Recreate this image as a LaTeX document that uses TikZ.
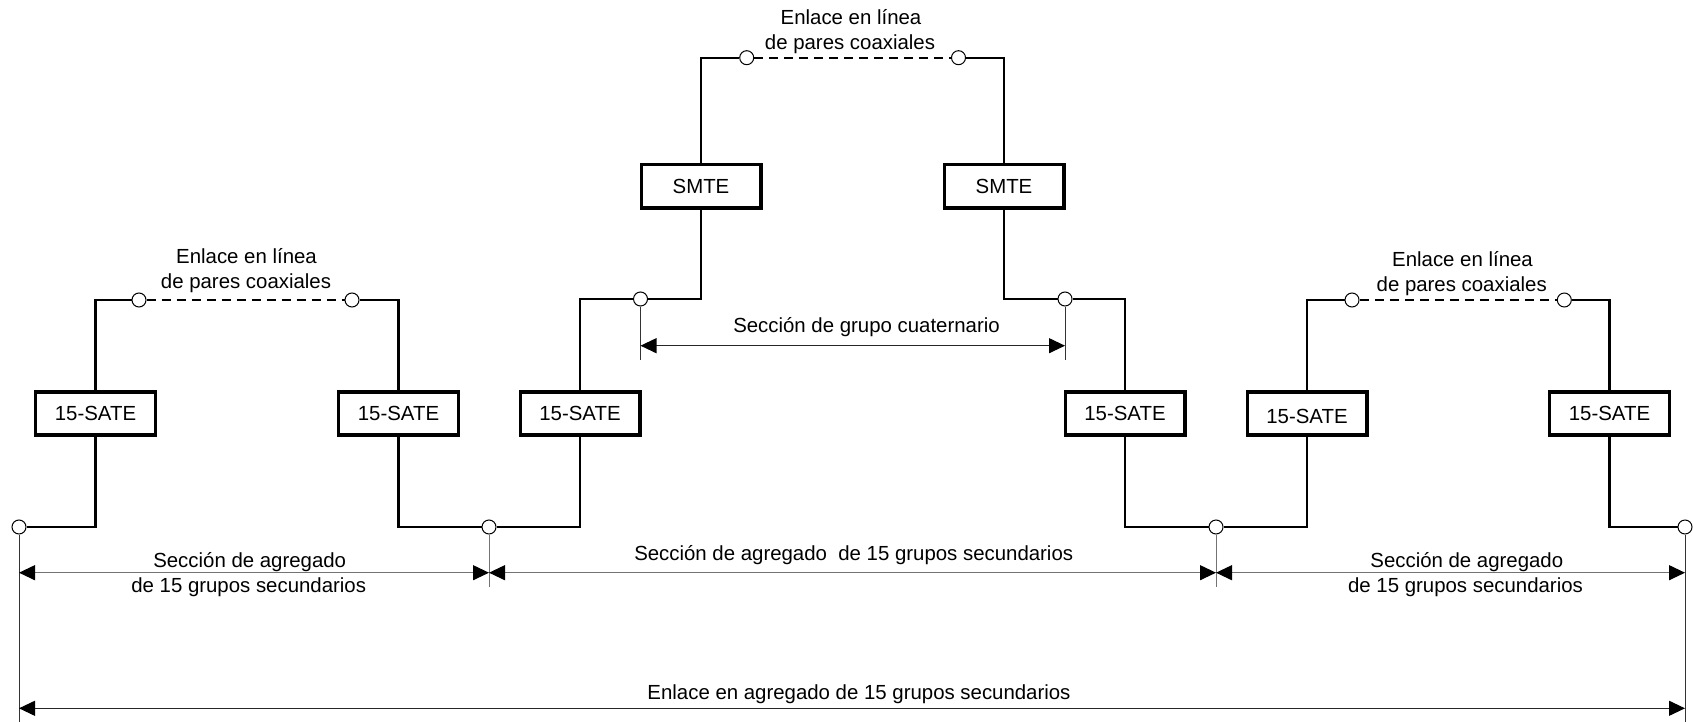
\documentclass[tikz,border=0pt]{standalone}
\usepackage{fontspec}
\setmainfont{Liberation Sans}
\usetikzlibrary{arrows.meta}
\begin{document}
\begin{tikzpicture}[x=1pt,y=-1pt,
  unit/.style={draw, line width=3.3pt, minimum width=119.7pt, minimum height=43.2pt,
    inner sep=0pt, text height=14.6pt, text depth=0pt, font=\fontsize{20.4}{24}\selectfont},
  port/.style={circle, draw, fill=white, line width=1pt, minimum size=14pt, inner sep=0pt},
  wire/.style={line width=2.2pt},
  link/.style={line width=2pt, dash pattern=on 9pt off 6pt},
  lbl/.style={font=\fontsize{20.4}{24}\selectfont, inner sep=0pt, anchor=base},
  tip/.tip={Triangle[length=16pt,width=15pt,color=black]},
  secdim/.style={line width=1.1pt, black!55, tip-tip},
  maindim/.style={line width=1.1pt, black!85, tip-tip},
  sectick/.style={line width=1pt, black!55},
  maintick/.style={line width=1pt, black!80}]
\useasboundingbox (0,0) rectangle (1693,722);

% terminal equipment
\node[unit] (b1) at (95.5,413.5) {15-SATE};
\node[unit] (b2) at (398.5,413.5) {15-SATE};
\node[unit] (b3) at (580,413.5) {15-SATE};
\node[unit] (b4) at (1125,413.5) {15-SATE};
\node[unit, text height=20.6pt] (b5) at (1307,413.5) {15-SATE};
\node[unit] (b6) at (1609.5,413.5) {15-SATE};
\node[unit] (s1) at (701,186.3) {SMTE};
\node[unit] (s2) at (1004,186.3) {SMTE};

% access points
\node[port] (c1) at (19,527) {};
\node[port] (c2) at (489,527) {};
\node[port] (c3) at (1216,527) {};
\node[port] (c4) at (1685,527) {};
\node[port] (m1) at (640.5,299) {};
\node[port] (m2) at (1065,299) {};
\node[port] (t1) at (139,300) {};
\node[port] (t2) at (352,300) {};
\node[port] (t3) at (746.7,57.7) {};
\node[port] (t4) at (958.5,57.7) {};
\node[port] (t5) at (1352,300) {};
\node[port] (t6) at (1564.3,300) {};

% wiring
\draw[wire] (c1) -| (b1);
\draw[wire] (b1) |- (t1);
\draw[link] (t1) -- (t2);
\draw[wire] (t2) -| (b2);
\draw[wire] (b2) |- (c2);
\draw[wire] (c2) -| (b3);
\draw[wire] (b3) |- (m1);
\draw[wire] (m1) -| (s1);
\draw[wire] (s1) |- (t3);
\draw[link] (t3) -- (t4);
\draw[wire] (t4) -| (s2);
\draw[wire] (s2) |- (m2);
\draw[wire] (m2) -| (b4);
\draw[wire] (b4) |- (c3);
\draw[wire] (c3) -| (b5);
\draw[wire] (b5) |- (t5);
\draw[link] (t5) -- (t6);
\draw[wire] (t6) -| (b6);
\draw[wire] (b6) |- (c4);

% extension lines
\coordinate (m1e) at (640.5,360);
\coordinate (m2e) at (1065,360);
\coordinate (c1e) at (19,722);
\coordinate (c2e) at (489,587);
\coordinate (c3e) at (1216,587);
\coordinate (c4e) at (1685,722);
\draw[maintick] (m1) -- (m1e);
\draw[maintick] (m2) -- (m2e);
\draw[maintick] (c1) -- (c1e);
\draw[sectick] (c2) -- (c2e);
\draw[sectick] (c3) -- (c3e);
\draw[maintick] (c4) -- (c4e);

% dimension lines
\coordinate (q1) at (640.5,345.7);
\coordinate (q2) at (1065,345.7);
\coordinate (d1) at (19,572.7);
\coordinate (d2) at (489,572.7);
\coordinate (d3) at (1216,572.7);
\coordinate (d4) at (1685,572.7);
\coordinate (e1) at (19,708.3);
\coordinate (e2) at (1685,708.3);
\draw[maindim] (q1) -- (q2);
\draw[secdim] (d1) -- (d2);
\draw[secdim] (d2) -- (d3);
\draw[secdim] (d3) -- (d4);
\draw[maindim] (e1) -- (e2);

% labels
\node[lbl] (la1) at (246.5,263) {Enlace en línea};
\node[lbl] (la2) at (246,288) {de pares coaxiales};
\node[lbl] (lb1) at (851,25) {Enlace en línea};
\node[lbl] (lb2) at (850,50) {de pares coaxiales};
\node[lbl] (lc1) at (1462.5,266.5) {Enlace en línea};
\node[lbl] (lc2) at (1461.7,291) {de pares coaxiales};
\node[lbl] (lq) at (866.5,332) {Sección de grupo cuaternario};
\node[lbl] (ls1) at (249.7,567) {Sección de agregado};
\node[lbl] (ls2) at (248.7,592) {de 15 grupos secundarios};
\node[lbl] (lm) at (853.7,560.5) {Sección de agregado~ de 15 grupos secundarios};
\node[lbl] (lr1) at (1466.8,567) {Sección de agregado};
\node[lbl] (lr2) at (1465.5,592) {de 15 grupos secundarios};
\node[lbl] (lt) at (859,699) {Enlace en agregado de 15 grupos secundarios};
\end{tikzpicture}
\end{document}
